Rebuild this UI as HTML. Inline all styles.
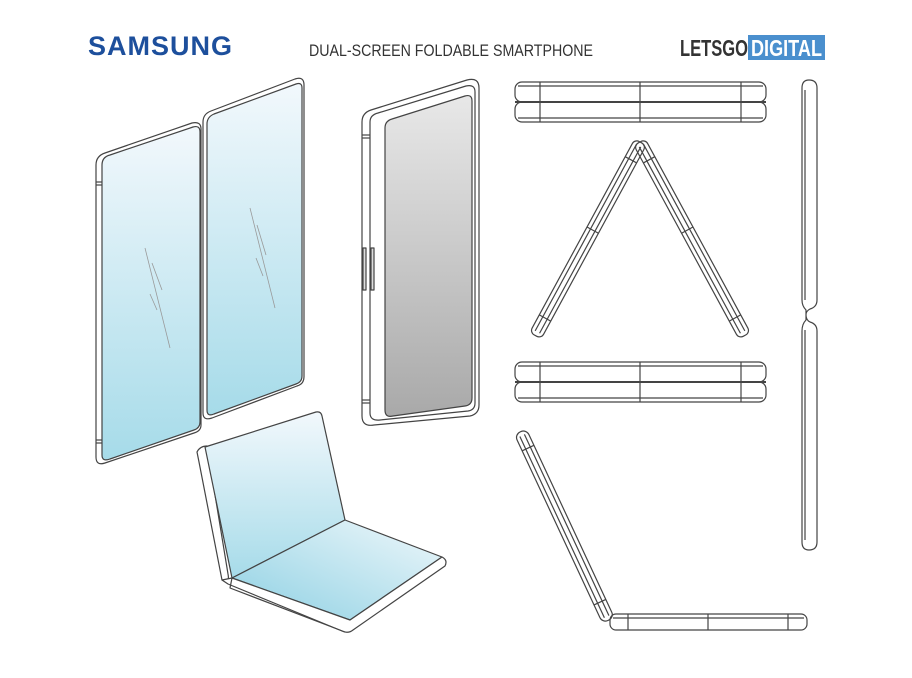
<!DOCTYPE html>
<html><head><meta charset="utf-8"><style>
html,body{margin:0;padding:0;background:#fff;}
body{width:912px;height:673px;overflow:hidden;position:relative;font-family:"Liberation Sans",sans-serif;}
</style></head><body>
<svg width="912" height="673" viewBox="0 0 912 673" xmlns="http://www.w3.org/2000/svg">
<defs>
<linearGradient id="bl" x1="0" y1="0" x2="0" y2="1"><stop offset="0" stop-color="#f2f8fc"/><stop offset="1" stop-color="#a6dbe9"/></linearGradient>
<linearGradient id="gr" x1="0" y1="0" x2="0" y2="1"><stop offset="0" stop-color="#e8e8e8"/><stop offset="1" stop-color="#a9a9a9"/></linearGradient>
<linearGradient id="bl2" x1="1" y1="0" x2="0" y2="1"><stop offset="0" stop-color="#f0f8fb"/><stop offset="1" stop-color="#8dd0e3"/></linearGradient>
</defs>
<!-- header -->
<text x="88" y="55" font-family="Liberation Sans, sans-serif" font-weight="bold" font-size="27" fill="#1d4f9c" letter-spacing="1" textLength="145" lengthAdjust="spacingAndGlyphs">SAMSUNG</text>
<text x="309" y="56" font-family="Liberation Sans, sans-serif" font-size="17" fill="#333" textLength="284" lengthAdjust="spacingAndGlyphs">DUAL-SCREEN FOLDABLE SMARTPHONE</text>
<text x="680" y="56" font-family="Liberation Sans, sans-serif" font-weight="bold" font-size="23" fill="#333" textLength="68" lengthAdjust="spacingAndGlyphs">LETSGO</text>
<rect x="748" y="35" width="77" height="25" fill="#4a8fce"/>
<text x="751" y="56" font-family="Liberation Sans, sans-serif" font-weight="bold" font-size="23" fill="#fff" textLength="71" lengthAdjust="spacingAndGlyphs">DIGITAL</text>

<g fill="none" stroke="#444" stroke-width="1.2" stroke-linejoin="round">
<!-- open phone left panel -->
<path d="M96,165 Q96,156 105,153 L192,123 Q201,121 201,129 L201,425 Q201,431 194,433 L105,463 Q96,466 96,457 Z" fill="#fff"/>
<path d="M102,165 Q102,157 110,155 L193,127 Q200,125 200,132 L200,422 Q200,428 194,430 L110,459 Q102,462 102,455 Z" fill="url(#bl)"/>
<line x1="96" y1="182" x2="102" y2="182"/><line x1="96" y1="185" x2="102" y2="185"/>
<line x1="96" y1="440" x2="102" y2="440"/><line x1="96" y1="443" x2="102" y2="443"/>
<!-- open phone right panel -->
<path d="M203,122 Q203,114 211,111 L295,79 Q304,76 304,85 L304,377 Q304,384 297,386 L212,418 Q203,421 203,413 Z" fill="#fff"/>
<path d="M207,124 Q207,117 214,114 L296,84 Q302,82 302,88 L302,376 Q302,382 296,384 L214,414 Q207,417 207,410 Z" fill="url(#bl)"/>
<g stroke="#999" stroke-width="0.8">
<line x1="145" y1="248" x2="170" y2="348"/><line x1="152" y1="263" x2="162" y2="290"/><line x1="150" y1="294" x2="157" y2="310"/>
<line x1="250" y1="208" x2="275" y2="308"/><line x1="257" y1="225" x2="266" y2="255"/><line x1="256" y1="258" x2="263" y2="276"/>
</g>
<!-- closed phone -->
<path d="M362,122 Q362,113 371,110 L467,80 Q479,77 479,88 L479,405 Q479,414 470,416 L374,425 Q362,427 362,416 Z" fill="#fff"/>
<path d="M370,122 Q370,115 378,113 L466,86 Q475,84 475,92 L475,403 Q475,410 468,411 L380,420 Q370,421 370,413 Z" fill="#fff"/>
<path d="M385,128 Q385,121 392,119 L465,96 Q472,94 472,101 L472,398 Q472,405 465,406 L393,416 Q385,418 385,410 Z" fill="url(#gr)"/>
<line x1="362" y1="135" x2="370" y2="135"/><line x1="362" y1="138" x2="370" y2="138"/>
<line x1="362" y1="400" x2="370" y2="400"/><line x1="362" y1="403" x2="370" y2="403"/>
<rect x="363" y="248" width="3" height="42" fill="#ddd"/><rect x="371" y="248" width="3" height="42" fill="#ddd"/>
<!-- laptop fold -->
<path d="M197,452 Q200,446 207,446 L228,574 Q230,584 222,580 L199,462 Z" fill="#fff"/>
<path d="M205,447 L316,412 Q321,411 322,416 L345,520 L232,578 Z" fill="url(#bl)"/>
<path d="M232,578 L345,520 L442,557 L350,620 Z" fill="url(#bl2)"/>
<path d="M222,580 L232,578 L350,620 L442,557 Q448,560 445,566 L353,630 Q348,634 342,631 L228,584 Z" fill="#fff"/>
<path d="M232,578 L230,588 L345,632"/>
<!-- top bar -->
<rect x="515" y="82" width="251" height="20" rx="7"/>
<rect x="515" y="102" width="251" height="20" rx="7"/>
<line x1="518" y1="86" x2="763" y2="86"/><line x1="518" y1="118" x2="763" y2="118"/>
<line x1="515" y1="102" x2="766" y2="102" stroke-width="2"/>
<line x1="540" y1="82" x2="540" y2="122"/><line x1="640" y1="82" x2="640" y2="122"/><line x1="741" y1="82" x2="741" y2="122"/>
<!-- second bar -->
<rect x="515" y="362" width="251" height="20" rx="7"/>
<rect x="515" y="382" width="251" height="20" rx="7"/>
<line x1="518" y1="366" x2="763" y2="366"/><line x1="518" y1="398" x2="763" y2="398"/>
<line x1="515" y1="382" x2="766" y2="382" stroke-width="2"/>
<line x1="540" y1="362" x2="540" y2="402"/><line x1="640" y1="362" x2="640" y2="402"/><line x1="741" y1="362" x2="741" y2="402"/>
<!-- triangle legs -->
<g transform="translate(640,142) rotate(28.5)">
<rect x="-6" y="0" width="13" height="220" rx="5"/><line x1="-2" y1="4" x2="-2" y2="216"/><line x1="3" y1="4" x2="3" y2="216"/>
<line x1="-6" y1="20" x2="7" y2="20"/><line x1="-6" y1="100" x2="7" y2="100"/><line x1="-6" y1="200" x2="7" y2="200"/>
</g>
<g transform="translate(640,142) rotate(-28.5)">
<rect x="-7" y="0" width="13" height="220" rx="5"/><line x1="-3" y1="4" x2="-3" y2="216"/><line x1="2" y1="4" x2="2" y2="216"/>
<line x1="-7" y1="20" x2="6" y2="20"/><line x1="-7" y1="100" x2="6" y2="100"/><line x1="-7" y1="200" x2="6" y2="200"/>
</g>
<!-- vertical right -->
<path d="M802,88 Q802,80 809,80 Q817,80 817,88 L817,300 Q817,307 810,309 Q806,311 806,315 Q806,320 810,322 Q817,324 817,331 L817,542 Q817,550 809,550 Q802,550 802,542 L802,331 Q802,324 806,320 L806,310 Q802,306 802,300 Z"/>
<line x1="805" y1="90" x2="805" y2="300"/><line x1="805" y1="330" x2="805" y2="540"/>
<!-- L shape -->
<g transform="translate(520,432) rotate(-25)">
<rect x="-6" y="0" width="13" height="208" rx="6"/><line x1="-2" y1="4" x2="-2" y2="204"/><line x1="3" y1="4" x2="3" y2="204"/>
<line x1="-6" y1="18" x2="7" y2="18"/><line x1="-6" y1="188" x2="7" y2="188"/>
</g>
<rect x="610" y="614" width="197" height="16" rx="6"/>
<line x1="613" y1="618" x2="804" y2="618"/>
<line x1="628" y1="614" x2="628" y2="630"/><line x1="708" y1="614" x2="708" y2="630"/><line x1="788" y1="614" x2="788" y2="630"/>
</g>
</svg>
</body></html>
